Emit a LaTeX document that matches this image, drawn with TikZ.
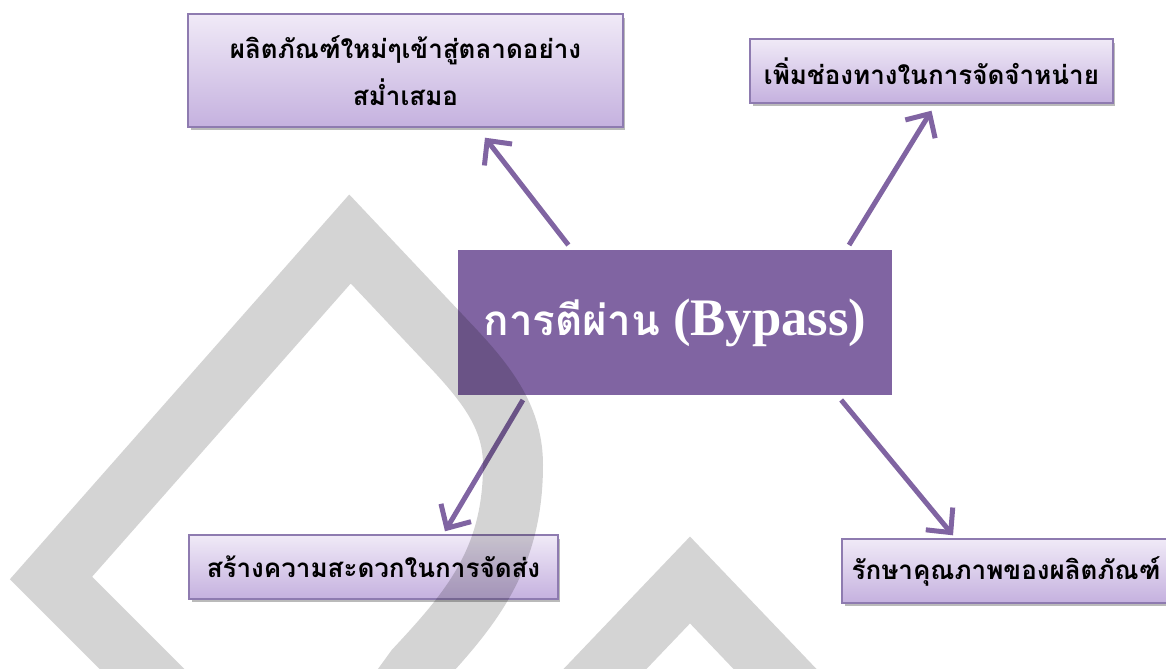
\documentclass[tikz,border=0pt]{standalone}
\usepackage{fontspec}
\setmainfont{Liberation Serif}
\newfontfamily\thaifont[Script=Thai]{Loma}
\usepackage{tikz}
\usetikzlibrary{shadows,arrows.meta}
\definecolor{hubpurple}{HTML}{8064A2}
\definecolor{boxline}{HTML}{8E7BB0}
\definecolor{boxtop}{HTML}{F0EAF7}
\definecolor{boxbottom}{HTML}{C5B1DF}

\begin{document}
\begin{tikzpicture}[x=0.02cm, y=-0.02cm,
             goal/.style={draw=boxline, line width=0.8pt, top color=boxtop, bottom color=boxbottom,
             drop shadow={shadow xshift=0.5mm, shadow yshift=-0.7mm, opacity=0.45, fill=black!60},
             inner sep=0pt, align=center, font=\thaifont\bfseries\fontsize{14.8}{22}\selectfont},
             hub/.style={draw=white, line width=0.1cm, fill=hubpurple, text=white, inner sep=0pt,
             drop shadow={shadow xshift=0.3mm, shadow yshift=-0.5mm, opacity=0.3}},
             arr/.style={hubpurple, line width=0.1cm, -{Straight Barb[length=0.36cm,width=0.7cm]}},
             wmark/.style={draw=black, draw opacity=0.17, line width=1.2cm, miter limit=10}]
             \useasboundingbox (0,0) rectangle (1166,669);
             \node[hub, minimum width=8.78cm, minimum height=3cm] (bypass) at (675,322.5)
                 {\bfseries\fontsize{30}{36}\selectfont{\thaifont\fontsize{24}{36}\selectfont การตีผ่าน} (Bypass)};
             \node[goal, minimum width=8.7cm, minimum height=2.26cm] (prod) at (405.5,70.5)
                 {ผลิตภัณฑ์ใหม่ๆเข้าสู่ตลาดอย่าง\\[0.6ex]สม่ำเสมอ};
             \node[goal, minimum width=7.26cm, minimum height=1.28cm] (chan) at (931.5,71)
                 {เพิ่มช่องทางในการจัดจำหน่าย};
             \node[goal, minimum width=7.38cm, minimum height=1.28cm] (ship) at (373.5,567)
                 {สร้างความสะดวกในการจัดส่ง};
             \node[goal, minimum width=6.56cm, minimum height=1.28cm] (qual) at (1006,571)
                 {รักษาคุณภาพของผลิตภัณฑ์};
             \draw[arr] (bypass.144) -- ([xshift=1.59cm,yshift=-0.2cm]prod.south);
             \draw[arr] (bypass.24) -- ([yshift=-0.14cm]chan.south);
             \draw[arr] (bypass.207) -- ([xshift=1.43cm,yshift=0.06cm]ship.north);
             \draw[arr] (bypass.-25) -- ([xshift=-1.06cm,yshift=0.06cm]qual.north);
             \begin{scope}
                 \clip (0,0) rectangle (1166,669);
                 \draw[wmark] (210,737) -- (51,578) -- (350,239) -- (450,345)
                     .. controls (490,387) and (513,420) .. (513,465)
                     .. controls (513,560) and (470,610) .. (415,669) -- (370,731);
                 \draw[wmark] (540,737) -- (690,580) -- (840,737);
             \end{scope}
         \end{tikzpicture}
\end{document}
